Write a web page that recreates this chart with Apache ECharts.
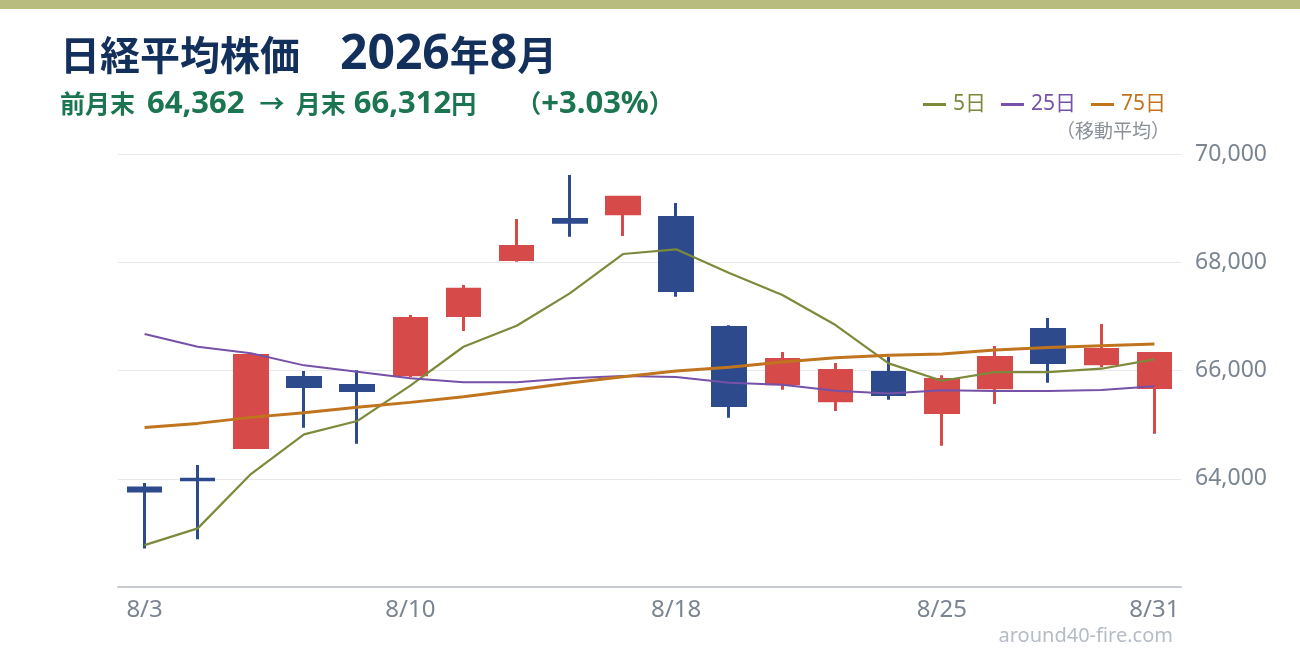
<!DOCTYPE html>
<html><head><meta charset="utf-8">
<script src="https://cdn.jsdelivr.net/npm/echarts@6/dist/echarts.min.js"></script>
<style>html,body{margin:0;padding:0;background:#fff}#c{width:1300px;height:660px}</style>
</head><body><div id="c"></div>
<script>
const dates = ['8/3','8/4','8/5','8/6','8/7','8/10','8/12','8/13','8/14','8/17','8/18','8/19','8/20','8/21','8/24','8/25','8/26','8/27','8/28','8/31'];
const xTickLabels = ['8/3','8/10','8/18','8/25','8/31'];
const opens  = [63830, 63990, 64579, 65872, 65725, 65922, 67018, 68053, 68790, 68898, 68829, 66796, 65756, 65442, 65965, 65226, 65682, 66759, 66126, 65688];
const closes = [63775, 63980, 66279, 65706, 65632, 66963, 67499, 68293, 68740, 69199, 67480, 65355, 66205, 66002, 65558, 65835, 66242, 66150, 66390, 66312];
const lows   = [62713, 62880, 64579, 64942, 64646, 65873, 66729, 68010, 68472, 68485, 67363, 65127, 65644, 65251, 65460, 64609, 65380, 65774, 66058, 64831];
const highs  = [63920, 64253, 66279, 65990, 66003, 67025, 67579, 68799, 69612, 69199, 69094, 66834, 66341, 66138, 66254, 65910, 66452, 66969, 66858, 66312];
const ma5  = [62774, 63083, 64086, 64820, 65066, 65720, 66439, 66827, 67426, 68152, 68239, 67800, 67394, 66840, 66132, 65811, 65971, 65971, 66033, 66206];
const ma25 = [66674, 66439, 66317, 66095, 65977, 65855, 65781, 65781, 65855, 65897, 65879, 65774, 65737, 65626, 65577, 65633, 65620, 65620, 65639, 65707];
const ma75 = [64949, 65023, 65134, 65219, 65319, 65411, 65515, 65639, 65768, 65885, 65990, 66058, 66156, 66236, 66280, 66304, 66378, 66427, 66458, 66489];
const yMin = 62000, yMax = 70000, yStep = 2000;

const C_UP = '#d64a4a', C_DOWN = '#2c4a8c';
const C5 = '#7b8a3b', C25 = '#7551a8', C75 = '#c0741e';
const FONT = "'Noto Sans','Noto Sans CJK JP',sans-serif";
const CJK = "'Noto Sans CJK JP',sans-serif";
const TITLE_C = '#12305b', SUB_C = '#1a7550';

const chart = echarts.init(document.getElementById('c'), null, {renderer:'canvas'});
chart.setOption({
  animation: false,
  backgroundColor: '#ffffff',
  textStyle: {fontFamily: FONT},
  grid: {left: 118, right: 119, top: 154, bottom: 73},
  legend: {
    right: 129, top: 89,
    icon: 'rect', itemWidth: 23, itemHeight: 3, itemGap: 15,
    textStyle: {fontSize: 21, fontFamily: FONT, padding: [0, 0, 0, 2]},
    data: [
      {name: '5日', textStyle: {color: C5}},
      {name: '25日', textStyle: {color: C25}},
      {name: '75日', textStyle: {color: C75}}
    ]
  },
  xAxis: {
    type: 'category', data: dates, boundaryGap: true,
    axisTick: {show: false},
    axisLine: {lineStyle: {color: '#c8cbd1', width: 2}},
    axisLabel: {
      color: '#7b8592', fontSize: 24, margin: 11,
      interval: (i, v) => xTickLabels.includes(v)
    },
    splitLine: {show: false}
  },
  yAxis: {
    type: 'value', position: 'right', min: yMin, max: yMax, interval: yStep,
    axisLine: {show: false}, axisTick: {show: false},
    axisLabel: {
      color: '#7b8592', fontSize: 23, margin: 14, showMinLabel: false,
      formatter: v => v.toLocaleString('en-US')
    },
    splitLine: {lineStyle: {color: '#e6e8ec', width: 1}}
  },
  series: [
    {
      type: 'candlestick', name: '日経平均', barWidth: 33,
      data: dates.map((d, i) => [opens[i], closes[i], lows[i], highs[i]]),
      itemStyle: {color: C_UP, color0: C_DOWN, borderColor: C_UP, borderColor0: C_DOWN, borderWidth: 3}
    },
    {type: 'line', name: '5日', data: ma5, symbol: 'none', lineStyle: {color: C5, width: 2.2}, itemStyle: {color: C5}},
    {type: 'line', name: '25日', data: ma25, symbol: 'none', lineStyle: {color: C25, width: 2}, itemStyle: {color: C25}},
    {type: 'line', name: '75日', data: ma75, symbol: 'none', lineStyle: {color: C75, width: 3}, itemStyle: {color: C75}}
  ],
  graphic: [
    {type: 'rect', left: 0, top: 0, shape: {x: 0, y: 0, width: 1300, height: 9}, style: {fill: '#b8bc7f'}},
    {type: 'text', left: 60, top: 31, style: {
      text: '{c|日経平均株価　}{d|2026}{c|年}{d|8}{c|月}',
      rich: {
        c: {fontSize: 40, fontWeight: 'bold', fontFamily: CJK, fill: TITLE_C},
        d: {fontSize: 48, fontWeight: 'bold', fontFamily: FONT, fill: TITLE_C}
      }
    }},
    {type: 'text', left: 60, top: 84, style: {
      text: '{c|前月末}{n1| 64,362 }{a|→}{n| }{c|月末}{n| 66,312}{c|円}{s|　}{c|（}{n|+3.03%}{c|）}',
      rich: {
        c: {fontSize: 25, fontWeight: 'bold', fontFamily: CJK, fill: SUB_C},
        a: {fontSize: 25, fontWeight: 'bold', fontFamily: CJK, fill: SUB_C, padding: [0, 3]},
        s: {fontSize: 40, fontFamily: CJK, fill: SUB_C},
        n: {fontSize: 31, fontWeight: 'bold', fontFamily: FONT, fill: SUB_C},
        n1: {fontSize: 31, fontWeight: 'bold', fontFamily: FONT, fill: SUB_C, padding: [0, 4]}
      }
    }},
    {type: 'text', right: 130, top: 121, style: {text: '（移動平均）', fontSize: 19, fontFamily: CJK, fill: '#8a919b'}},
    {type: 'text', right: 127, top: 626, style: {text: 'around40-fire.com', fontSize: 20, fontFamily: FONT, fill: '#b5bcc6'}}
  ]
});
</script>
</body></html>
